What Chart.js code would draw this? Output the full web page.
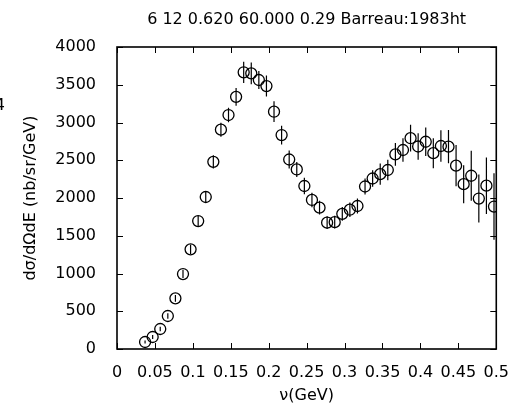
<!DOCTYPE html>
<html>
<head>
<meta charset="utf-8">
<script src="https://cdn.jsdelivr.net/npm/chart.js@4"></script>
<style>
  html, body { margin: 0; padding: 0; background: #fff; }
  #wrap { width: 515px; height: 405px; }
</style>
</head>
<body>
<div id="wrap"><canvas id="chart"></canvas></div>
<script>
// data
const nu = [0.037, 0.047, 0.057, 0.067, 0.077, 0.087, 0.097, 0.107, 0.117, 0.127,
  0.137, 0.147, 0.157, 0.167, 0.177, 0.187, 0.197, 0.207, 0.217, 0.227,
  0.237, 0.247, 0.257, 0.267, 0.277, 0.287, 0.297, 0.307, 0.317, 0.327,
  0.337, 0.347, 0.357, 0.367, 0.377, 0.387, 0.397, 0.407, 0.417, 0.427,
  0.437, 0.447, 0.457, 0.467, 0.477, 0.487, 0.497]
const sigma = [93, 159, 265, 437, 671, 993, 1320, 1695, 2013, 2479,
  2905, 3099, 3340, 3665, 3651, 3563, 3483, 3143, 2834, 2510,
  2378, 2159, 1974, 1872, 1673, 1680, 1790, 1845, 1894, 2152,
  2258, 2316, 2371, 2577, 2636, 2792, 2682, 2745, 2594, 2689,
  2680, 2428, 2183, 2295, 1993, 2163, 1887]
const sigmaErr = [20, 25, 30, 35, 44, 53, 62, 66, 75, 88,
  93, 97, 118, 141, 145, 120, 140, 137, 124, 120,
  100, 110, 95, 90, 85, 85, 90, 95, 100, 106,
  110, 141, 137, 150, 155, 177, 177, 190, 199, 208,
  221, 274, 252, 331, 318, 375, 440]

const xTicks = [0, 0.05, 0.1, 0.15, 0.2, 0.25, 0.3, 0.35, 0.4, 0.45, 0.5]
const yTicks = [0, 500, 1000, 1500, 2000, 2500, 3000, 3500, 4000]

const titleText = "6 12 0.620 60.000 0.29 Barreau:1983ht"
const xLabel = "ν(GeV)"
const yLabel = "dσ/dΩdE (nb/sr/GeV)"

const font = "DejaVu Sans"

// vertical error bars, drawn through the scales
const errorBars = {
  id: "errorBars",
  beforeDatasetsDraw(chart) {
    const { ctx, scales: { x, y } } = chart
    ctx.save()
    ctx.strokeStyle = "#000"
    ctx.lineWidth = 1.2
    ctx.beginPath()
    nu.forEach((v, i) => {
      const px = x.getPixelForValue(v)
      ctx.moveTo(px, y.getPixelForValue(sigma[i] - sigmaErr[i]))
      ctx.lineTo(px, y.getPixelForValue(sigma[i] + sigmaErr[i]))
    })
    ctx.stroke()
    ctx.restore()
  },
}

// gnuplot style frame with inward ticks on all four sides, title over the plot box
const frame = {
  id: "frame",
  afterDraw(chart) {
    const { ctx, chartArea: a, scales: { x, y } } = chart
    const len = 6
    ctx.save()
    ctx.strokeStyle = "#000"
    ctx.lineWidth = 1
    ctx.beginPath()
    xTicks.forEach((v) => {
      const px = Math.round(x.getPixelForValue(v)) + 0.5
      ctx.moveTo(px, a.bottom)
      ctx.lineTo(px, a.bottom - len)
      ctx.moveTo(px, a.top)
      ctx.lineTo(px, a.top + len)
    })
    yTicks.forEach((v) => {
      const py = Math.round(y.getPixelForValue(v)) + 0.5
      ctx.moveTo(a.left, py)
      ctx.lineTo(a.left + len, py)
      ctx.moveTo(a.right, py)
      ctx.lineTo(a.right - len, py)
    })
    ctx.stroke()
    ctx.lineWidth = 1.6
    ctx.strokeRect(a.left, a.top, a.right - a.left, a.bottom - a.top)

    ctx.fillStyle = "#000"
    ctx.font = "16px '" + font + "'"
    ctx.textBaseline = "middle"
    ctx.textAlign = "center"
    ctx.fillText(titleText, (a.left + a.right) / 2, 19.6)
    // stray clipped label at the far left edge
    ctx.textAlign = "right"
    ctx.fillText("4", 5, 106)
    ctx.restore()
  },
}

Chart.defaults.font.family = font
Chart.defaults.font.size = 16
Chart.defaults.color = "#000"

new Chart(document.getElementById("chart"), {
  type: "scatter",
  data: {
    datasets: [
      {
        data: nu.map((v, i) => ({ x: v, y: sigma[i] })),
        showLine: false,
        pointStyle: "circle",
        pointRadius: 5.5,
        pointHoverRadius: 5.5,
        borderColor: "#000",
        backgroundColor: "rgba(0,0,0,0)",
        pointBorderWidth: 1.3,
      },
    ],
  },
  options: {
    responsive: true,
    maintainAspectRatio: false,
    animation: false,
    layout: { padding: { left: 0, right: 18, top: 47, bottom: 0 } },
    plugins: {
      legend: { display: false },
      tooltip: { enabled: false },
      title: { display: false },
    },
    scales: {
      x: {
        type: "linear",
        min: 0,
        max: 0.5,
        afterBuildTicks: (s) => { s.ticks = xTicks.map((v) => ({ value: v })) },
        afterFit: (s) => { s.height = 56 },
        ticks: { padding: 6, maxRotation: 0, autoSkip: false, callback: (v) => String(v) },
        grid: { display: false },
        border: { display: false },
        title: { display: true, text: xLabel, font: { size: 16 }, padding: { top: 0, bottom: 0 } },
      },
      y: {
        type: "linear",
        min: 0,
        max: 4000,
        afterBuildTicks: (s) => { s.ticks = yTicks.map((v) => ({ value: v })) },
        afterFit: (s) => { s.width = 117 },
        ticks: { padding: 13, autoSkip: false, callback: (v) => String(v) },
        grid: { display: false },
        border: { display: false },
        title: { display: true, text: yLabel, font: { size: 16 }, padding: { top: 21, bottom: 0 } },
      },
    },
  },
  plugins: [errorBars, frame],
})
</script>
</body>
</html>
